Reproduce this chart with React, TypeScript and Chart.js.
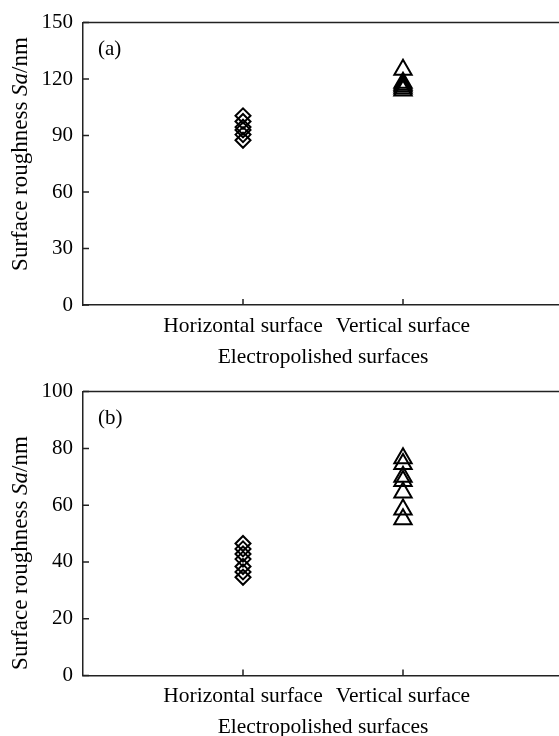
import { useEffect, useRef } from 'react';
import { Chart, registerables } from 'chart.js';

Chart.register(...registerables);

// ---- data ----
const categories = ['Horizontal surface', 'Vertical surface'];
const xAxisTitle = 'Electropolished surfaces';
const yAxisTitle: [string, string][] = [
  ['Surface roughness ', 'normal'],
  ['Sa', 'italic'],
  ['/nm', 'normal'],
];

// panel (a)
const horizontalA = [100.5, 97.5, 94.5, 93, 90.5, 87.5];
const verticalA = [125, 118, 117, 116, 115, 114];
const yMaxA = 150;
const yStepA = 30;

// panel (b)
const horizontalB = [46.5, 44.6, 42.8, 41, 38.4, 36.5, 34.6];
const verticalB = [76.5, 74.5, 70, 68.5, 64.5, 58.5, 55];
const yMaxB = 100;
const yStepB = 20;

// ---- style ----
const FONT = '"Liberation Serif", "Times New Roman", serif';
const INK = '#000';
const LINE = '#222';
const CANVAS_W = 563;
const CANVAS_H = 372;

const framePlugin = {
  id: 'frame',
  afterDraw(chart: any, _args: any, opts: any) {
    const { ctx, chartArea: a, scales } = chart;
    ctx.save();
    ctx.strokeStyle = LINE;
    ctx.lineWidth = 1.5;
    // top edge of the box
    ctx.beginPath();
    ctx.moveTo(a.left, a.top);
    ctx.lineTo(a.right, a.top);
    ctx.stroke();
    // inward tick marks
    ctx.beginPath();
    scales.y.ticks.forEach((t: any) => {
      const py = scales.y.getPixelForValue(t.value);
      ctx.moveTo(a.left, py);
      ctx.lineTo(a.left + 6, py);
    });
    scales.x.ticks.forEach((t: any) => {
      const px = scales.x.getPixelForValue(t.value);
      ctx.moveTo(px, a.bottom);
      ctx.lineTo(px, a.bottom - 6);
    });
    ctx.stroke();

    // panel tag
    ctx.fillStyle = INK;
    ctx.textAlign = 'left';
    ctx.textBaseline = 'alphabetic';
    ctx.font = `21px ${FONT}`;
    ctx.fillText(opts.tag, a.left + 15, a.top + 32);

    // rotated y-axis title with italic symbol
    const size = opts.titleSize;
    const pieces = yAxisTitle.map(([text, style]) => {
      ctx.font = `${style} ${size}px ${FONT}`;
      return { text, style, w: ctx.measureText(text).width };
    });
    const total = pieces.reduce((s, p) => s + p.w, 0);
    ctx.translate(opts.titleX, opts.titleY);
    ctx.rotate(-Math.PI / 2);
    let x = -total / 2;
    pieces.forEach((p) => {
      ctx.font = `${p.style} ${size}px ${FONT}`;
      ctx.fillText(p.text, x, 0);
      x += p.w;
    });
    ctx.restore();
  },
};

function makeConfig(opts: {
  horizontal: number[];
  vertical: number[];
  yMax: number;
  yStep: number;
  tag: string;
  xAxisHeight: number;
  titlePadBottom: number;
  titleX: number;
  titleY: number;
}): any {
  const yFont = { family: FONT, size: 21 };
  const xFont = { family: FONT, size: 21.5 };
  return {
    type: 'scatter',
    data: {
      datasets: [
        {
          data: opts.horizontal.map((v) => ({ x: 1, y: v })),
          pointStyle: 'rectRot',
          pointRadius: 7.5,
          pointBorderWidth: 2,
          pointBorderColor: INK,
          pointBackgroundColor: 'rgba(0,0,0,0)',
        },
        {
          data: opts.vertical.map((v) => ({ x: 2, y: v })),
          pointStyle: 'triangle',
          pointRadius: 10,
          pointBorderWidth: 2,
          pointBorderColor: INK,
          pointBackgroundColor: 'rgba(0,0,0,0)',
        },
      ],
    },
    options: {
      responsive: false,
      animation: false,
      events: [],
      layout: {
        autoPadding: false,
        padding: { top: 19, left: 0, right: 0, bottom: 0 },
      },
      plugins: {
        legend: { display: false },
        tooltip: { enabled: false },
        frame: {
          tag: opts.tag,
          titleX: opts.titleX,
          titleY: opts.titleY,
          titleSize: 23,
        },
      },
      scales: {
        x: {
          type: 'linear',
          min: 0,
          max: 3,
          afterBuildTicks: (axis: any) => {
            axis.ticks = categories.map((_, i) => ({ value: i + 1 }));
          },
          afterFit: (axis: any) => {
            axis.height = opts.xAxisHeight;
            axis.paddingLeft = 0;
            axis.paddingRight = 0;
          },
          ticks: {
            callback: (v: number) => categories[Math.round(v) - 1] ?? '',
            font: xFont,
            color: INK,
            padding: 8,
            maxRotation: 0,
            autoSkip: false,
          },
          grid: { display: false, drawTicks: false },
          border: { display: true, color: LINE, width: 1.5 },
          title: {
            display: true,
            text: xAxisTitle,
            font: xFont,
            color: INK,
            padding: { top: 0, bottom: opts.titlePadBottom },
          },
        },
        y: {
          type: 'linear',
          min: 0,
          max: opts.yMax,
          afterFit: (axis: any) => {
            axis.width = 83;
          },
          ticks: {
            stepSize: opts.yStep,
            font: yFont,
            color: INK,
            padding: 10,
          },
          grid: { display: false, drawTicks: false },
          border: { display: true, color: LINE, width: 1.5 },
        },
      },
    },
    plugins: [framePlugin],
  };
}

function Panel({ top, config }: { top: number; config: any }) {
  const ref = useRef<HTMLCanvasElement>(null);
  useEffect(() => {
    const chart = new Chart(ref.current as HTMLCanvasElement, config);
    return () => chart.destroy();
  }, []);
  return (
    <div
      style={{
        position: 'absolute',
        left: 0,
        top,
        width: CANVAS_W,
        height: CANVAS_H,
        minWidth: CANVAS_W,
      }}
    >
      <canvas
        ref={ref}
        width={CANVAS_W}
        height={CANVAS_H}
        style={{ display: 'block', width: CANVAS_W, height: CANVAS_H }}
      />
    </div>
  );
}

export default function App() {
  const configA = makeConfig({
    horizontal: horizontalA,
    vertical: verticalA,
    yMax: yMaxA,
    yStep: yStepA,
    tag: '(a)',
    xAxisHeight: CANVAS_H - 305,
    titlePadBottom: 2,
    titleX: 27,
    titleY: 154,
  });
  const configB = makeConfig({
    horizontal: horizontalB,
    vertical: verticalB,
    yMax: yMaxB,
    yStep: yStepB,
    tag: '(b)',
    xAxisHeight: CANVAS_H - 306.5,
    titlePadBottom: 1,
    titleX: 27,
    titleY: 184,
  });
  return (
    <div
      style={{
        position: 'fixed',
        left: 0,
        top: 0,
        width: 559,
        height: 736,
        overflow: 'hidden',
        background: '#fff',
      }}
    >
      <Panel top={0} config={configA} />
      <Panel top={369} config={configB} />
    </div>
  );
}
